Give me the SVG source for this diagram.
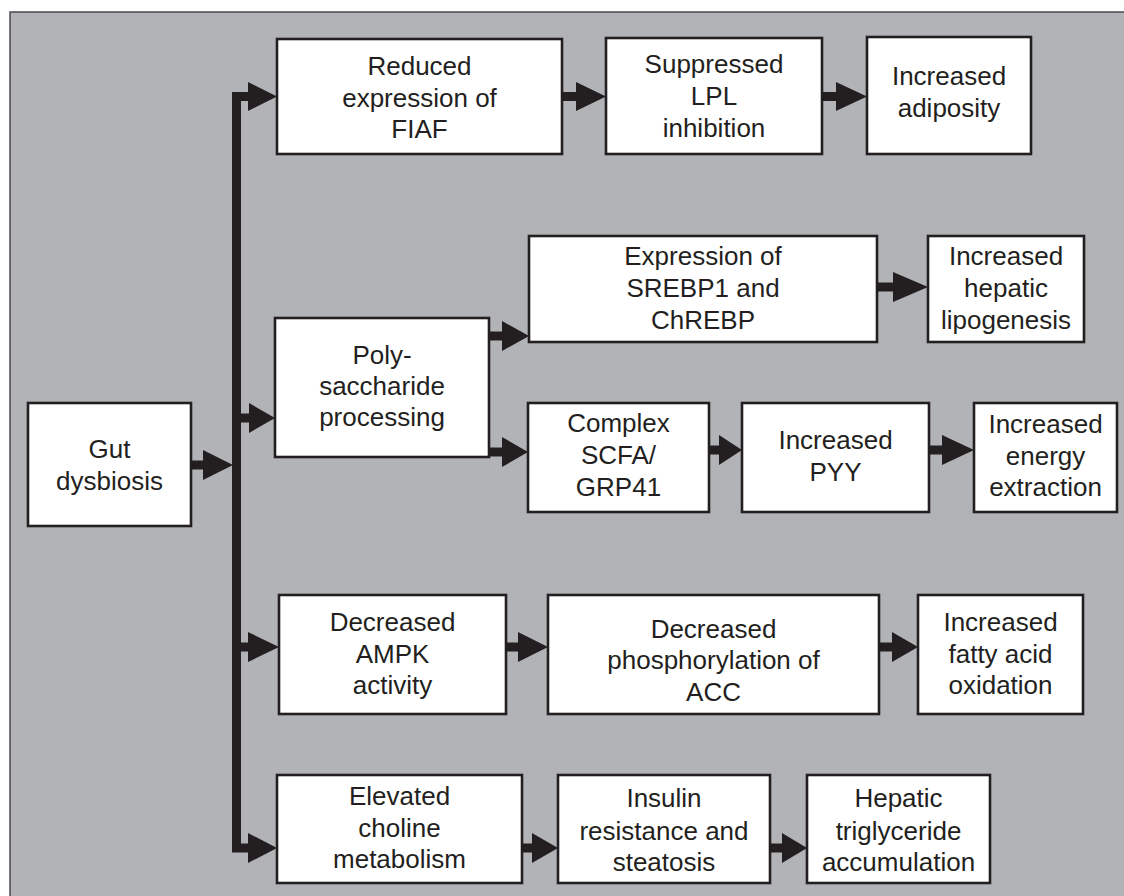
<svg xmlns="http://www.w3.org/2000/svg" width="1124" height="896" viewBox="0 0 1124 896">
<style>
.bg{fill:#b2b3b7;stroke:#4a4a4c;stroke-width:1.5}
.box{fill:#ffffff;stroke:#231f20;stroke-width:2.6}
.lbl{font-family:"Liberation Sans",Arial,sans-serif;font-size:26px;fill:#231f20;text-anchor:middle}
.shaft{fill:none;stroke:#231f20;stroke-width:9;stroke-linejoin:miter;stroke-linecap:butt}
.head{fill:#231f20}
</style>
<rect class="bg" x="10" y="12" width="1120" height="890"/>
<g id="connectors">
<path class="shaft" d="M250,96.5 H236.5 V848 H250"/>
<path class="shaft" d="M191,465 H205"/>
<path class="shaft" d="M236,418 H251"/>
<path class="shaft" d="M236,647 H250"/>
<path class="shaft" d="M561,96.5 H578"/>
<path class="shaft" d="M821,96.5 H838"/>
<path class="shaft" d="M488,336 H504"/>
<path class="shaft" d="M876,287 H895"/>
<path class="shaft" d="M488,452 H504"/>
<path class="shaft" d="M708,450 H721"/>
<path class="shaft" d="M928,450 H944"/>
<path class="shaft" d="M505,647 H520"/>
<path class="shaft" d="M878,647 H894"/>
<path class="shaft" d="M521,848 H534"/>
<path class="shaft" d="M769,848 H784"/>
<polygon class="head" points="203,450 233,465 203,480"/>
<polygon class="head" points="248,82 277,96.5 248,111"/>
<polygon class="head" points="249,403 275,418 249,433"/>
<polygon class="head" points="248,632 279,647 248,662"/>
<polygon class="head" points="248,833 277,848 248,863"/>
<polygon class="head" points="576,82 606,96.5 576,111"/>
<polygon class="head" points="836,82 867,96.5 836,111"/>
<polygon class="head" points="502,321 529,336 502,351"/>
<polygon class="head" points="893,272 928,287 893,302"/>
<polygon class="head" points="502,437 528,452 502,467"/>
<polygon class="head" points="719,435 742,450 719,465"/>
<polygon class="head" points="942,435 974,450 942,465"/>
<polygon class="head" points="518,632 548,647 518,662"/>
<polygon class="head" points="892,632 918,647 892,662"/>
<polygon class="head" points="532,833 558,848 532,863"/>
<polygon class="head" points="782,833 807,848 782,863"/>
</g>
<g id="gut">
<rect class="box" x="28" y="403" width="163" height="123"/>
<text class="lbl" x="109.5" y="458">Gut</text>
<text class="lbl" x="109.5" y="490">dysbiosis</text>
</g>
<g id="fiaf">
<rect class="box" x="277" y="39" width="285" height="115"/>
<text class="lbl" x="419.5" y="75">Reduced</text>
<text class="lbl" x="419.5" y="107">expression of</text>
<text class="lbl" x="419.5" y="138">FIAF</text>
</g>
<g id="lpl">
<rect class="box" x="606" y="38" width="216" height="116"/>
<text class="lbl" x="714" y="73">Suppressed</text>
<text class="lbl" x="714" y="105">LPL</text>
<text class="lbl" x="714" y="137">inhibition</text>
</g>
<g id="adiposity">
<rect class="box" x="867" y="37" width="164" height="117"/>
<text class="lbl" x="949" y="85">Increased</text>
<text class="lbl" x="949" y="117">adiposity</text>
</g>
<g id="poly">
<rect class="box" x="275" y="318" width="214" height="139"/>
<text class="lbl" x="382" y="364">Poly-</text>
<text class="lbl" x="382" y="395">saccharide</text>
<text class="lbl" x="382" y="426">processing</text>
</g>
<g id="srebp">
<rect class="box" x="529" y="236" width="348" height="106"/>
<text class="lbl" x="703" y="265">Expression of</text>
<text class="lbl" x="703" y="297">SREBP1 and</text>
<text class="lbl" x="703" y="329">ChREBP</text>
</g>
<g id="lipogenesis">
<rect class="box" x="928" y="236" width="156" height="106"/>
<text class="lbl" x="1006" y="265">Increased</text>
<text class="lbl" x="1006" y="297">hepatic</text>
<text class="lbl" x="1006" y="329">lipogenesis</text>
</g>
<g id="scfa">
<rect class="box" x="528" y="403" width="181" height="109"/>
<text class="lbl" x="618.5" y="432">Complex</text>
<text class="lbl" x="618.5" y="464">SCFA/</text>
<text class="lbl" x="618.5" y="496">GRP41</text>
</g>
<g id="pyy">
<rect class="box" x="742" y="403" width="187" height="109"/>
<text class="lbl" x="835.5" y="449">Increased</text>
<text class="lbl" x="835.5" y="481">PYY</text>
</g>
<g id="energy">
<rect class="box" x="974" y="403" width="143" height="109"/>
<text class="lbl" x="1045.5" y="433">Increased</text>
<text class="lbl" x="1045.5" y="465">energy</text>
<text class="lbl" x="1045.5" y="496">extraction</text>
</g>
<g id="ampk">
<rect class="box" x="279" y="595" width="227" height="119"/>
<text class="lbl" x="392.5" y="631">Decreased</text>
<text class="lbl" x="392.5" y="663">AMPK</text>
<text class="lbl" x="392.5" y="694">activity</text>
</g>
<g id="acc">
<rect class="box" x="548" y="595" width="331" height="119"/>
<text class="lbl" x="713.5" y="638">Decreased</text>
<text class="lbl" x="713.5" y="669">phosphorylation of</text>
<text class="lbl" x="713.5" y="701">ACC</text>
</g>
<g id="fatty">
<rect class="box" x="918" y="595" width="165" height="119"/>
<text class="lbl" x="1000.5" y="631">Increased</text>
<text class="lbl" x="1000.5" y="663">fatty acid</text>
<text class="lbl" x="1000.5" y="694">oxidation</text>
</g>
<g id="choline">
<rect class="box" x="277" y="775" width="245" height="108"/>
<text class="lbl" x="399.5" y="805">Elevated</text>
<text class="lbl" x="399.5" y="837">choline</text>
<text class="lbl" x="399.5" y="868">metabolism</text>
</g>
<g id="insulin">
<rect class="box" x="558" y="775" width="212" height="108"/>
<text class="lbl" x="664" y="807">Insulin</text>
<text class="lbl" x="664" y="840">resistance and</text>
<text class="lbl" x="664" y="871">steatosis</text>
</g>
<g id="triglyceride">
<rect class="box" x="807" y="775" width="183" height="108"/>
<text class="lbl" x="898.5" y="807">Hepatic</text>
<text class="lbl" x="898.5" y="840">triglyceride</text>
<text class="lbl" x="898.5" y="871">accumulation</text>
</g>
</svg>
